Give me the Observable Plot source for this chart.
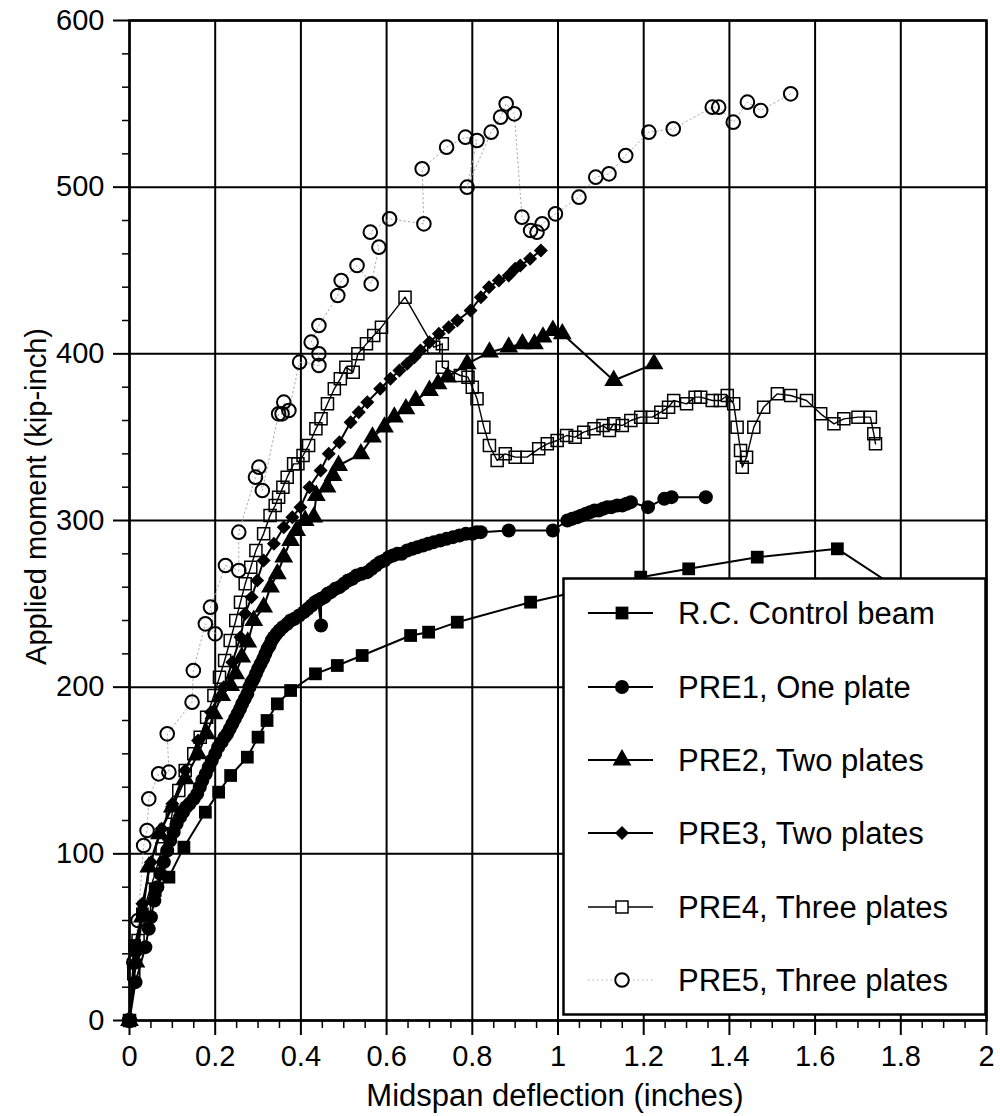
<!DOCTYPE html>
<html>
<head>
<meta charset="utf-8">
<script src="https://cdn.jsdelivr.net/npm/d3@7"></script>
<script src="https://cdn.jsdelivr.net/npm/@observablehq/plot@0.6"></script>
<style>
  body { margin: 0; background: #fff; }
  #chart { position: relative; width: 1000px; height: 1116px; font-family: "Liberation Sans", Arial, Helvetica, sans-serif; }
  #legend { position: absolute; left: 562px; top: 577px; }
</style>
</head>
<body>
<div id="chart"></div>
<script>
// Moment–deflection test records: [midspan deflection (in), applied moment (kip-in)]
const rcControl = [[0,0],[0.012,45],[0.03,64],[0.06,78],[0.092,86],[0.127,104],[0.177,125],[0.208,137],[0.236,147],[0.275,158],[0.30,170],[0.321,180],[0.345,190],[0.376,198],[0.434,208],[0.485,213],[0.543,219],[0.656,231],[0.698,233],[0.765,239],[0.936,251],[1.193,266],[1.305,271],[1.465,278],[1.652,283],[1.80,258]];

const pre1 = [[0,0],[0.014,23],[0.037,44],[0.045,55],[0.05,62],[0.058,72],[0.065,80],[0.072,88],[0.08,95],[0.088,102],[0.095,108],[0.103,113],[0.11,118],[0.118,122],[0.125,125],[0.132,128],[0.14,130],[0.15,133],[0.158,136],[0.164,140],[0.17,144],[0.178,148],[0.185,152],[0.192,156],[0.2,160],[0.207,164],[0.215,167],[0.222,170],[0.228,172],[0.234,175],[0.24,178],[0.246,181],[0.252,184],[0.258,187],[0.263,190],[0.269,193],[0.275,196],[0.28,200],[0.285,203],[0.29,205],[0.295,208],[0.3,211],[0.306,214],[0.312,217],[0.317,220],[0.322,223],[0.327,225],[0.332,228],[0.337,230],[0.343,232],[0.35,234],[0.358,236],[0.368,238],[0.376,240],[0.385,241],[0.396,243],[0.407,245],[0.416,247],[0.425,249],[0.433,251],[0.44,252],[0.447,237],[0.447,253],[0.455,254],[0.462,256],[0.47,257],[0.48,259],[0.49,260],[0.5,262],[0.51,264],[0.52,265],[0.53,267],[0.542,268],[0.555,269],[0.565,271],[0.575,273],[0.585,275],[0.595,276],[0.605,278],[0.615,279],[0.625,280],[0.635,280],[0.648,282],[0.66,283],[0.672,284],[0.685,285],[0.697,286],[0.71,287],[0.725,288],[0.74,289],[0.755,290],[0.77,291],[0.785,292],[0.8,292],[0.81,293],[0.82,293],[0.885,294],[0.988,294],[1.022,300],[1.033,301],[1.045,302],[1.055,303],[1.065,304],[1.075,305],[1.085,306],[1.095,306],[1.105,307],[1.115,308],[1.125,308],[1.138,309],[1.15,309],[1.16,310],[1.17,311],[1.21,308],[1.248,313],[1.265,314],[1.345,314]];

const pre2 = [[0,0],[0.015,35],[0.03,62],[0.045,92],[0.07,112],[0.1,128],[0.13,145],[0.16,160],[0.18,172],[0.197,184],[0.215,195],[0.236,201],[0.248,208],[0.262,218],[0.276,227],[0.29,240],[0.313,248],[0.329,260],[0.345,268],[0.36,278],[0.376,288],[0.39,294],[0.41,300],[0.43,302],[0.436,315],[0.461,320],[0.475,327],[0.488,333],[0.54,340],[0.567,350],[0.595,356],[0.618,362],[0.645,367],[0.668,372],[0.7,378],[0.72,382],[0.742,386],[0.788,394],[0.84,401],[0.885,404],[0.917,406],[0.945,406],[0.965,410],[0.988,414],[1.01,412],[1.13,384],[1.224,394]];

const pre3 = [[0,0],[0.015,40],[0.03,70],[0.05,95],[0.075,115],[0.1,130],[0.13,150],[0.16,168],[0.19,185],[0.22,200],[0.24,215],[0.259,230],[0.27,244],[0.285,254],[0.298,264],[0.313,276],[0.337,286],[0.36,296],[0.38,302],[0.399,308],[0.42,320],[0.446,330],[0.465,340],[0.49,347],[0.516,359],[0.535,365],[0.555,371],[0.585,379],[0.609,385],[0.63,390],[0.648,394],[0.665,398],[0.679,402],[0.7,407],[0.722,412],[0.745,416],[0.765,420],[0.796,426],[0.82,434],[0.839,440],[0.862,444],[0.885,447],[0.9,451],[0.912,453],[0.935,457],[0.96,462]];

const pre4 = [[0,0],[0.01,28],[0.02,48],[0.035,68],[0.057,86],[0.076,103],[0.092,112],[0.1,125],[0.115,138],[0.13,150],[0.15,160],[0.165,170],[0.18,182],[0.197,195],[0.21,206],[0.222,216],[0.235,228],[0.248,240],[0.259,251],[0.27,262],[0.283,272],[0.295,282],[0.313,292],[0.328,303],[0.34,309],[0.348,314],[0.358,320],[0.368,326],[0.383,334],[0.393,334],[0.405,339],[0.418,345],[0.435,355],[0.447,361],[0.462,370],[0.478,379],[0.492,385],[0.505,392],[0.522,389],[0.533,400],[0.553,406],[0.57,411],[0.588,416],[0.643,434],[0.71,404],[0.73,406],[0.73,392],[0.772,387],[0.79,386],[0.80,380],[0.811,373],[0.827,356],[0.84,345],[0.858,336],[0.877,340],[0.9,338],[0.928,338],[0.955,343],[0.975,346],[0.998,348],[1.02,351],[1.04,350],[1.06,353],[1.084,355],[1.105,357],[1.12,354],[1.13,358],[1.15,357],[1.17,360],[1.193,362],[1.22,362],[1.24,365],[1.258,368],[1.27,372],[1.3,370],[1.32,374],[1.333,374],[1.36,372],[1.379,372],[1.395,375],[1.41,370],[1.418,356],[1.426,342],[1.43,332],[1.44,338],[1.457,356],[1.48,368],[1.512,376],[1.543,375],[1.58,372],[1.613,364],[1.644,358],[1.667,361],[1.7,362],[1.729,362],[1.737,352],[1.741,346]];

const pre5 = [[0,0],[0.01,35],[0.02,60],[0.033,105],[0.041,114],[0.045,133],[0.068,148],[0.092,149],[0.088,172],[0.146,191],[0.149,210],[0.177,238],[0.2,232],[0.189,248],[0.224,273],[0.255,270],[0.255,293],[0.294,326],[0.302,332],[0.31,318],[0.348,364],[0.356,364],[0.36,371],[0.372,366],[0.397,395],[0.442,393],[0.442,400],[0.424,407],[0.442,417],[0.486,435],[0.494,444],[0.531,453],[0.564,442],[0.582,464],[0.562,473],[0.607,481],[0.687,478],[0.683,511],[0.74,524],[0.784,530],[0.811,528],[0.788,500],[0.844,533],[0.866,542],[0.879,550],[0.898,544],[0.916,482],[0.936,474],[0.951,473],[0.963,478],[0.994,484],[1.049,494],[1.088,506],[1.119,508],[1.158,519],[1.212,533],[1.269,535],[1.36,548],[1.375,548],[1.409,539],[1.442,551],[1.473,546],[1.543,556]];

const seriesNames = ["R.C. Control beam", "PRE1, One plate", "PRE2, Two plates", "PRE3, Two plates", "PRE4, Three plates", "PRE5, Three plates"];

const xTicks = [0, 0.2, 0.4, 0.6, 0.8, 1, 1.2, 1.4, 1.6, 1.8, 2];
const xTickLabels = ["0", "0.2", "0.4", "0.6", "0.8", "1", "1.2", "1.4", "1.6", "1.8", "2"];
const yTicks = [0, 100, 200, 300, 400, 500, 600];
const yTickLabels = ["0", "100", "200", "300", "400", "500", "600"];
const xTitle = "Midspan deflection (inches)";
const yTitle = "Applied moment (kip-inch)";

const xMinor = d3.range(0, 40.5).map(i => i * 0.05).filter(v => !xTicks.some(t => Math.abs(t - v) < 1e-9));
const yMinor = d3.range(0, 30.5).map(i => i * 20).filter(v => v % 100 !== 0);

const toRows = pts => pts.map(([x, y]) => ({x, y}));

// Marker and line styles shared by the plot and the legend
const styles = [
  {data: rcControl, symbol: "square",   r: 7.2, fill: "#000", stroke: "none", line: {stroke: "#000", strokeWidth: 2}},
  {data: pre1,      symbol: "circle",   r: 7,   fill: "#000", stroke: "none", line: {stroke: "#000", strokeWidth: 2}},
  {data: pre2,      symbol: "triangle", r: 7,   fill: "#000", stroke: "none", line: {stroke: "#000", strokeWidth: 2}},
  {data: pre3,      symbol: "diamond2", r: 6.3, fill: "#000", stroke: "none", line: {stroke: "#000", strokeWidth: 2}},
  {data: pre4,      symbol: "square",   r: 6.8, fill: "none", stroke: "#000", strokeWidth: 1.5, line: {stroke: "#000", strokeWidth: 1.4}},
  {data: pre5,      symbol: "circle",   r: 6.8, fill: "none", stroke: "#000", strokeWidth: 2, line: {stroke: "#aaa", strokeWidth: 1, strokeDasharray: "1.5,3"}}
];

const font = '"Liberation Sans", Arial, Helvetica, sans-serif';

const seriesMarks = [];
for (const s of [...styles].reverse()) {
  const rows = toRows(s.data);
  seriesMarks.push(Plot.line(rows, {x: "x", y: "y", ...s.line}));
  seriesMarks.push(Plot.dot(rows, {x: "x", y: "y", symbol: s.symbol, r: s.r, fill: s.fill, stroke: s.stroke, strokeWidth: s.strokeWidth ?? 1}));
}

const chart = Plot.plot({
  width: 1000,
  height: 1116,
  marginLeft: 129,
  marginRight: 14,
  marginTop: 20,
  marginBottom: 96,
  x: {domain: [0, 2]},
  y: {domain: [0, 600]},
  style: {fontFamily: font, fontSize: "29px", color: "#000", background: "#fff"},
  marks: [
    Plot.gridX(xTicks, {stroke: "#000", strokeOpacity: 1, strokeWidth: 2}),
    Plot.gridY(yTicks, {stroke: "#000", strokeOpacity: 1, strokeWidth: 2}),
    Plot.axisX(xMinor, {tickSize: 8, tickFormat: () => "", label: null, strokeWidth: 1.5}),
    Plot.axisX(xTicks, {tickSize: 15, tickPadding: 10, tickFormat: d => xTickLabels[xTicks.indexOf(d)], label: null, strokeWidth: 2}),
    Plot.axisY(yMinor, {tickSize: 7, tickFormat: () => "", label: null, strokeWidth: 1.5}),
    Plot.axisY(yTicks, {tickSize: 16, tickPadding: 9, tickFormat: d => yTickLabels[yTicks.indexOf(d)], label: null, strokeWidth: 2}),
    Plot.frame({stroke: "#000", strokeWidth: 2.5}),
    ...seriesMarks,
    Plot.text([yTitle], {frameAnchor: "left", text: d => d, rotate: -90, textAnchor: "middle", lineAnchor: "middle", dx: -93, dy: -24, fontSize: 29}),
    Plot.text([xTitle], {frameAnchor: "bottom", text: d => d, textAnchor: "middle", lineAnchor: "middle", dy: 76, dx: -3, fontSize: 31})
  ]
});

const container = document.getElementById("chart");
container.appendChild(chart);

// Legend box drawn over the lower-right of the plot area
const lw = 425, lh = 439;
const legend = d3.create("svg")
  .attr("id", "legend")
  .attr("width", lw)
  .attr("height", lh)
  .style("font-family", font);
legend.append("rect")
  .attr("x", 1.5).attr("y", 1.5)
  .attr("width", lw - 3).attr("height", lh - 3)
  .attr("fill", "#fff").attr("stroke", "#000").attr("stroke-width", 2.5);

const rowY = [36, 110, 183, 256, 330, 403];
styles.forEach((s, i) => {
  const g = legend.append("g").attr("transform", `translate(0,${rowY[i]})`);
  g.append("line")
    .attr("x1", 26).attr("x2", 91).attr("y1", 0).attr("y2", 0)
    .attr("stroke", s.line.stroke)
    .attr("stroke-width", s.line.strokeWidth)
    .attr("stroke-dasharray", s.line.strokeDasharray ?? null);
  const symType = {square: d3.symbolSquare, circle: d3.symbolCircle, triangle: d3.symbolTriangle, diamond2: d3.symbolDiamond2}[s.symbol];
  g.append("path")
    .attr("transform", "translate(60,0)")
    .attr("d", d3.symbol(symType, s.r * s.r * Math.PI)())
    .attr("fill", s.fill === "none" ? "#fff" : s.fill)
    .attr("stroke", s.stroke)
    .attr("stroke-width", s.strokeWidth ?? 1);
  g.append("text")
    .attr("x", 116).attr("y", 0).attr("dy", "0.36em")
    .attr("font-size", 31)
    .text(seriesNames[i]);
});
container.appendChild(legend.node());
</script>
</body>
</html>
